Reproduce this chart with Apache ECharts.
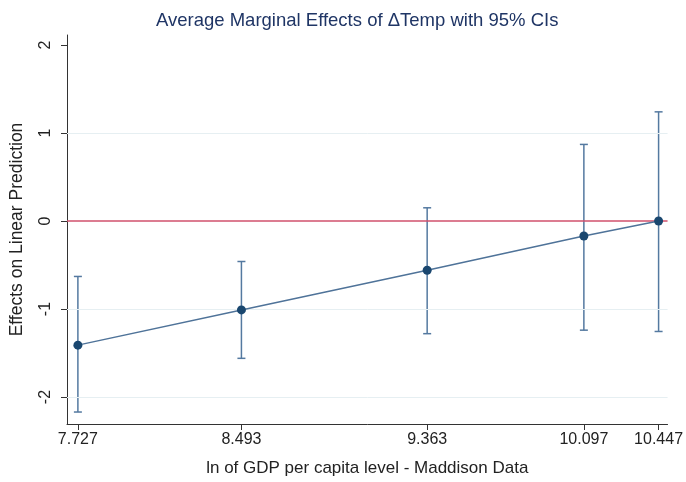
<!DOCTYPE html>
<html>
<head>
<meta charset="utf-8">
<script src="https://cdn.jsdelivr.net/npm/echarts@6/dist/echarts.min.js"></script>
<style>html,body{margin:0;padding:0;background:#fff}#c{width:686px;height:482px}</style>
</head>
<body>
<div id="c"></div>
<script>
var xVals = [7.727, 8.493, 9.363, 10.097, 10.447];
var effect = [-1.41, -1.01, -0.56, -0.17, 0.00];
var ciLow = [-2.17, -1.56, -1.28, -1.24, -1.255];
var ciHigh = [-0.63, -0.46, 0.15, 0.87, 1.24];
var yTicks = [-2, -1, 0, 1, 2];
var yGrid = [-2, -1, 1];
var refLine = 0;

var font = 'Liberation Sans, Arial, sans-serif';
var chart = echarts.init(document.getElementById('c'), null, {renderer: 'canvas'});

var pts = xVals.map(function (x, i) { return [x, effect[i]]; });
var ci = xVals.map(function (x, i) { return [x, ciLow[i], ciHigh[i]]; });

chart.setOption({
  animation: false,
  backgroundColor: '#ffffff',
  title: {
    text: 'Average Marginal Effects of \u0394Temp with 95% CIs',
    left: 151, top: 6,
    textStyle: {fontFamily: font, fontSize: 18.5, fontWeight: 'normal', color: '#1f3565'}
  },
  grid: {left: 63, top: 35, right: 18, bottom: 57, containLabel: false},
  xAxis: {
    type: 'value', min: 7.676, max: 10.489,
    name: 'ln of GDP per capita level - Maddison Data',
    nameLocation: 'middle', nameGap: 36,
    nameTextStyle: {fontFamily: font, fontSize: 17, color: '#222'},
    axisLine: {onZero: false, lineStyle: {color: '#333', width: 1}},
    axisTick: {show: true, length: 6, customValues: xVals, lineStyle: {color: '#333'}},
    axisLabel: {customValues: xVals, fontFamily: font, fontSize: 16, color: '#222', margin: 8,
      formatter: function (v) { return v.toFixed(3); }},
    splitLine: {show: false}
  },
  yAxis: {
    type: 'value', min: -2.306, max: 2.113,
    name: 'Effects on Linear Prediction',
    nameLocation: 'middle', nameGap: 41, nameRotate: 90,
    nameTextStyle: {fontFamily: font, fontSize: 17.5, color: '#222'},
    axisLine: {show: true, lineStyle: {color: '#333', width: 1}},
    axisTick: {show: true, length: 6, customValues: yTicks, lineStyle: {color: '#333'}},
    axisLabel: {customValues: yTicks, rotate: 90, fontFamily: font, fontSize: 16, color: '#222', margin: 13},
    splitLine: {show: false}
  },
  series: [
    {
      type: 'line', data: [], silent: true,
      markLine: {
        symbol: 'none', silent: true, label: {show: false},
        lineStyle: {color: '#e6eff2', width: 1, type: 'solid'},
        data: yGrid.map(function (y) { return {yAxis: y}; })
      }
    },
    {
      type: 'line', data: [], silent: true, z: 3,
      markLine: {
        symbol: 'none', silent: true, label: {show: false},
        lineStyle: {color: '#d1506c', width: 1.5, type: 'solid'},
        data: [{yAxis: refLine}]
      }
    },
    {
      type: 'custom', z: 4,
      data: ci,
      renderItem: function (params, api) {
        var x = api.value(0);
        var lo = api.coord([x, api.value(1)]);
        var hi = api.coord([x, api.value(2)]);
        var w = 4;
        var st = {stroke: '#5479a0', lineWidth: 1.5};
        return {
          type: 'group',
          children: [
            {type: 'line', shape: {x1: lo[0], y1: lo[1], x2: hi[0], y2: hi[1]}, style: st},
            {type: 'line', shape: {x1: lo[0] - w, y1: lo[1], x2: lo[0] + w, y2: lo[1]}, style: st},
            {type: 'line', shape: {x1: hi[0] - w, y1: hi[1], x2: hi[0] + w, y2: hi[1]}, style: st}
          ]
        };
      }
    },
    {
      type: 'line', z: 5, data: pts,
      symbol: 'circle', symbolSize: 9,
      lineStyle: {color: '#4f7399', width: 1.5},
      itemStyle: {color: '#1a476f', borderWidth: 0}
    }
  ]
});
</script>
</body>
</html>
